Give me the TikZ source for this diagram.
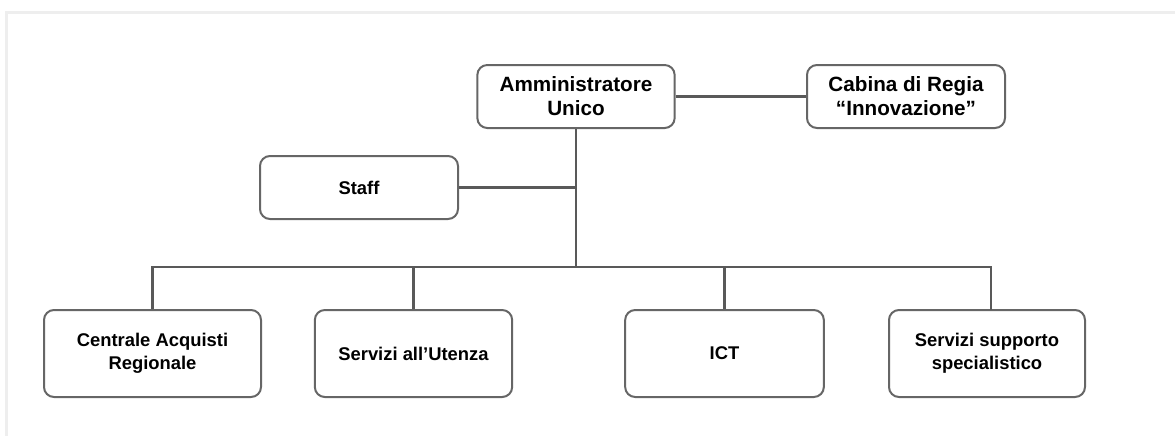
\documentclass[tikz,border=0pt]{standalone}
\usepackage{fontspec}
\setmainfont{Liberation Sans}

\definecolor{framegray}{HTML}{EEEEEE}
\definecolor{linegray}{HTML}{595959}
\definecolor{boxgray}{HTML}{666666}

\tikzset{
  unit/.style={draw=boxgray, line width=1.5pt, rounded corners=7.5pt, fill=white,
    align=center, font=\bfseries\fontsize{13.8}{17.5}\selectfont,
    minimum width=148pt, minimum height=65.25pt, inner sep=2pt},
  topunit/.style={unit, font=\bfseries\fontsize{15.5}{18}\selectfont,
    minimum height=47.25pt},
  link/.style={draw=linegray, line width=2.2pt}
}

\begin{document}
\begin{tikzpicture}[x=0.75pt, y=-0.75pt]
    \useasboundingbox (0,0) rectangle (1175,436);
    \draw[framegray, line width=2.6pt] (6.5,436) -- (6.5,12.5) -- (1175,12.5);

    % vertici
    \node[topunit] (amm) at (576,96.5) {Amministratore\\Unico};
    \node[topunit, minimum width=148.5pt] (cabina) at (906,96.5) {Cabina di Regia\\“Innovazione”};
    \node[unit, minimum width=148.5pt, minimum height=47.25pt] (staff) at (359,187.5) {Staff};

    % aree
    \node[unit, minimum width=162.75pt] (acquisti) at (152.5,353.5) {Centrale Acquisti\\Regionale};
    \node[unit] (utenza) at (413.5,353.5) {Servizi all’Utenza};
    \node[unit, minimum width=149pt] (ict) at (724.5,353.5) {ICT};
    \node[unit, minimum width=147pt] (supporto) at (987,353.5) {Servizi supporto\\specialistico};

    \coordinate (bus) at (576,267);
    \draw[link] (amm) -- (cabina);
    \draw[link] (amm) -- (bus);
    \draw[link] (staff) -- (staff -| bus);
    \draw[link] (acquisti.north) -- (acquisti.north |- bus) -- (991,267) -- (991,310);
    \draw[link] (utenza.north) -- (utenza.north |- bus);
    \draw[link] (ict.north) -- (ict.north |- bus);
\end{tikzpicture}
\end{document}
